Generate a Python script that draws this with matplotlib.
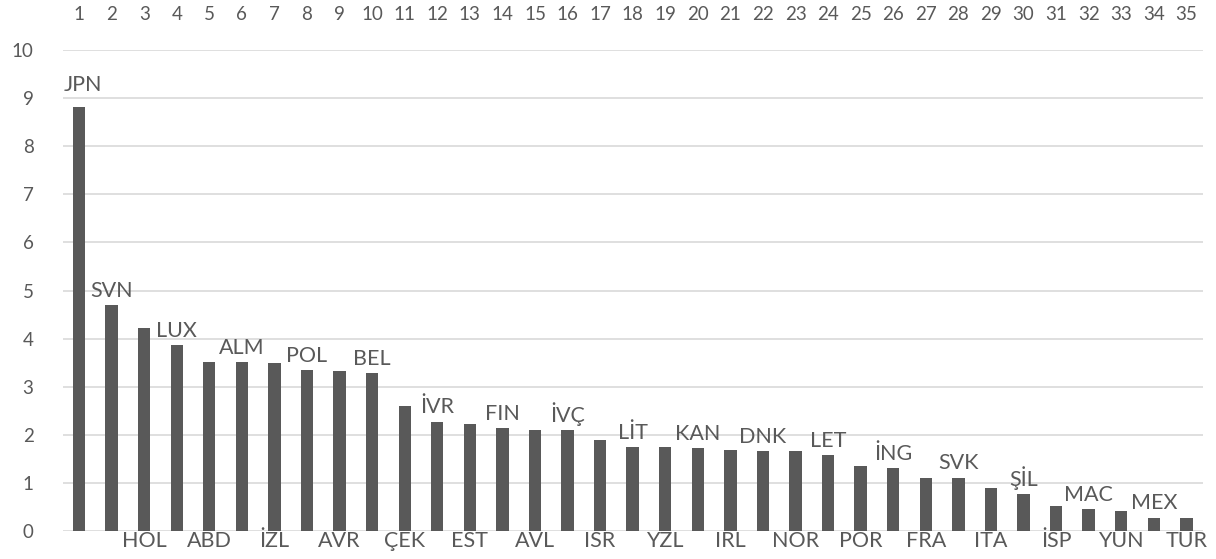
import matplotlib
matplotlib.use("Agg")
import matplotlib.pyplot as plt

ranks = list(range(1, 36))
countries = ["JPN", "SVN", "HOL", "LUX", "ABD", "ALM", "İZL", "POL", "AVR", "BEL",
             "ÇEK", "İVR", "EST", "FIN", "AVL", "İVÇ", "ISR", "LİT", "YZL", "KAN",
             "IRL", "DNK", "NOR", "LET", "POR", "İNG", "FRA", "SVK", "ITA", "ŞİL",
             "İSP", "MAC", "YUN", "MEX", "TÜR"]
values = [8.80, 4.70, 4.22, 3.87, 3.52, 3.52, 3.49, 3.35, 3.32, 3.28,
          2.60, 2.28, 2.22, 2.15, 2.11, 2.11, 1.90, 1.76, 1.76, 1.73,
          1.70, 1.66, 1.66, 1.59, 1.35, 1.32, 1.12, 1.12, 0.90, 0.77,
          0.52, 0.46, 0.43, 0.29, 0.29]
# label placement: True = above the bar, False = below the axis
label_above = [True, True] + [i % 2 == 1 for i in range(2, 35)]
yticks = list(range(0, 11))

plt.rcParams['font.family'] = ['Lato', 'DejaVu Sans']
gray = '#595959'

fig = plt.figure(figsize=(12.16, 5.59), dpi=100)
ax = fig.add_axes([0.0516, 0.0492, 0.9374, 0.8622])

ax.bar(ranks, values, width=0.38, color=gray, zorder=3)
ax.set_xlim(0.5, 35.5)
ax.set_ylim(0, 10)
ax.set_yticks(yticks)
ax.yaxis.grid(True, color='#d9d9d9', linewidth=1.2, zorder=0)
ax.set_axisbelow(True)
for s in ax.spines.values():
    s.set_visible(False)

ax.set_xticks(ranks)
ax.set_xticklabels([str(r) for r in ranks])
ax.xaxis.tick_top()
ax.tick_params(axis='x', length=0, pad=19, labelsize=13.5, labelcolor=gray)
ax.tick_params(axis='y', length=0, pad=21, labelsize=13.5, labelcolor=gray)

for i, (x, v, name, above) in enumerate(zip(ranks, values, countries, label_above)):
    if above:
        dx = 3 if i == 0 else 0
        dy = 9 if i == 0 else 3
        ax.annotate(name, (x, v), xytext=(dx, dy), textcoords='offset points',
                    ha='center', va='bottom', fontsize=15.5, color=gray)
    else:
        ax.annotate(name, (x, 0), xytext=(0, 0), textcoords='offset points',
                    ha='center', va='top', fontsize=15.5, color=gray)

fig.savefig('out.png', dpi=100)
